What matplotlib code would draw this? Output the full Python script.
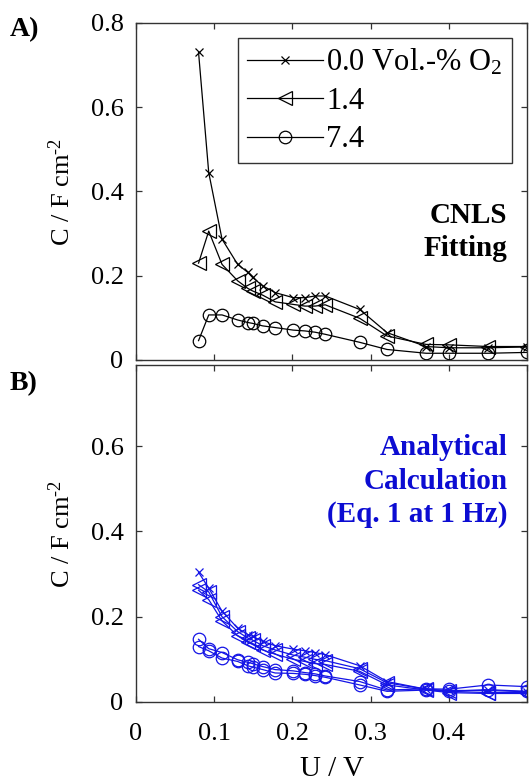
import numpy as np
import matplotlib
matplotlib.use("Agg")
import matplotlib.pyplot as plt

plt.rcParams["font.family"] = ["Liberation Serif", "DejaVu Serif"]
plt.rcParams["mathtext.fontset"] = "custom"
plt.rcParams["mathtext.rm"] = "Liberation Serif"
plt.rcParams["mathtext.it"] = "Liberation Serif:italic"
plt.rcParams["mathtext.bf"] = "Liberation Serif:bold"

# potential / V (shared by all series)
U = [0.080, 0.093, 0.110, 0.130, 0.143, 0.149, 0.162, 0.178, 0.201,
     0.216, 0.229, 0.242, 0.286, 0.321, 0.371, 0.400, 0.450, 0.500]

# A) CNLS fitting, C / F cm^-2
cnls_00 = [0.730, 0.445, 0.287, 0.227, 0.208, 0.196, 0.176, 0.160, 0.148,
           0.148, 0.152, 0.152, 0.120, 0.065, 0.032, 0.029, 0.029, 0.031]
cnls_14 = [0.230, 0.306, 0.227, 0.188, 0.170, 0.164, 0.154, 0.138, 0.132,
           0.128, 0.128, 0.131, 0.099, 0.057, 0.037, 0.036, 0.032, 0.032]
cnls_74 = [0.046, 0.107, 0.107, 0.095, 0.089, 0.087, 0.081, 0.077, 0.071,
           0.069, 0.066, 0.061, 0.042, 0.025, 0.016, 0.016, 0.016, 0.018]

# B) analytical calculation (Eq. 1 at 1 Hz)
ana_00 = [0.304, 0.267, 0.213, 0.173, 0.158, 0.154, 0.142, 0.132, 0.124,
          0.120, 0.116, 0.111, 0.085, 0.048, 0.030, 0.027, 0.027, 0.024]
ana_14a = [0.275, 0.258, 0.200, 0.165, 0.150, 0.145, 0.132, 0.122, 0.110,
           0.105, 0.100, 0.097, 0.078, 0.045, 0.030, 0.025, 0.022, 0.022]
ana_14b = [0.262, 0.240, 0.190, 0.155, 0.140, 0.135, 0.122, 0.112, 0.100,
           0.095, 0.090, 0.088, 0.072, 0.040, 0.028, 0.022, 0.020, 0.020]
ana_74a = [0.147, 0.125, 0.116, 0.099, 0.093, 0.090, 0.083, 0.076, 0.073,
           0.069, 0.066, 0.061, 0.048, 0.028, 0.031, 0.030, 0.040, 0.036]
ana_74b = [0.130, 0.120, 0.103, 0.095, 0.085, 0.082, 0.076, 0.068, 0.067,
           0.065, 0.062, 0.058, 0.040, 0.025, 0.028, 0.025, 0.029, 0.025]

LABELS = [r"0.0 Vol.-% O$_{\mathregular{2}}$", "1.4", "7.4"]
BLUE = "#1414e6"
FS = 19

fig = plt.figure(figsize=(5.31, 7.82), dpi=100)
ax1 = fig.add_axes([136 / 531, 1 - 360 / 782, 391 / 531, 337 / 782])
ax2 = fig.add_axes([136 / 531, 1 - 702 / 782, 391 / 531, 337 / 782])

style = dict(lw=0.9, mew=0.9, mfc="none")


def series(ax, y, marker, ms, color, label=None):
    ax.plot(U, y, marker=marker, ms=ms, color=color, label=label, **style)


series(ax1, cnls_00, "x", 6, "black", LABELS[0])
series(ax1, cnls_14, "<", 9.5, "black", LABELS[1])
series(ax1, cnls_74, "o", 9, "black", LABELS[2])

series(ax2, ana_00, "x", 6, BLUE)
series(ax2, ana_14a, "<", 9.5, BLUE)
series(ax2, ana_14b, "<", 9.5, BLUE)
series(ax2, ana_74a, "o", 9, BLUE)
series(ax2, ana_74b, "o", 9, BLUE)

for ax in (ax1, ax2):
    ax.set_xlim(0, 0.5)
    ax.set_xticks([0, 0.1, 0.2, 0.3, 0.4, 0.5])
    ax.tick_params(direction="in", top=True, right=True, length=4,
                   width=0.9, labelsize=FS, color="#333333")
    ax.tick_params(axis="y", pad=9)
    ax.tick_params(axis="x", pad=15)
    for sp in ax.spines.values():
        sp.set_linewidth(1.0)
        sp.set_color("#333333")
    ax.set_ylabel(r"C / F cm$^{\text{-}\mathregular{2}}$", fontsize=FS,
                  labelpad=11)

ax1.set_ylim(0, 0.8)
ax1.set_yticks([0, 0.2, 0.4, 0.6, 0.8])
ax1.set_yticklabels(["0", "0.2", "0.4", "0.6", "0.8"])
ax1.set_xticklabels([])

ax2.set_ylim(0, 0.79)
ax2.set_yticks([0, 0.2, 0.4, 0.6])
ax2.set_yticklabels(["0", "0.2", "0.4", "0.6"])
ax2.set_xticklabels(["0", "0.1", "0.2", "0.3", "0.4", ""])
ax2.set_xlabel("U / V", fontsize=21, labelpad=8)

leg = ax1.legend(loc="upper right", fontsize=22, frameon=True, fancybox=False,
                 handlelength=2.5, handletextpad=0.1, labelspacing=0.3,
                 borderaxespad=0.5, borderpad=0.3, framealpha=1)
leg.get_frame().set_edgecolor("#333333")
leg.get_frame().set_linewidth(1.0)

ax1.text(0.95, 0.38, "CNLS\nFitting", transform=ax1.transAxes, ha="right",
         va="center", fontsize=21, fontweight="bold", linespacing=1.3)
ax2.text(0.95, 0.655, "Analytical\nCalculation\n(Eq. 1 at 1 Hz)",
         transform=ax2.transAxes, ha="right", va="center", fontsize=21,
         fontweight="bold", color="#0c0cd2", linespacing=1.3)

fig.text(10 / 531, 1 - 30 / 782, "A)", fontsize=20, fontweight="bold",
         ha="left", va="center")
fig.text(10 / 531, 1 - 384 / 782, "B)", fontsize=20, fontweight="bold",
         ha="left", va="center")

fig.savefig("out.png", dpi=100)
